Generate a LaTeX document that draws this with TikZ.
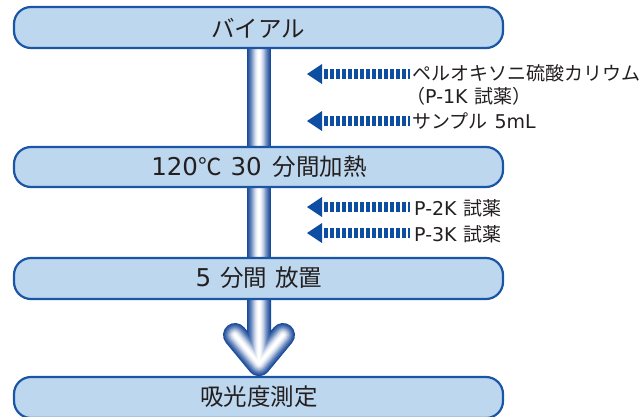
\documentclass[tikz,border=0pt]{standalone}
\usepackage{fontspec}
\setmainfont{Noto Sans CJK JP}
\newfontfamily\lat{DejaVu Sans}
\definecolor{boxfill}{HTML}{BDD7EE}
\definecolor{boxline}{HTML}{1B56A6}
\definecolor{tubeblue}{HTML}{1A4A9A}
\definecolor{arrblue}{HTML}{0D4EA3}
\definecolor{txt}{HTML}{231F20}
\newcommand{\tubedraw}[1]{%
  \foreach \w/\c in {24/0,22/8,20/16,18/26,16/36,14/48,12/60,10/72,8/82,6/90,4/96,2/100}{%
    \draw[line width=\w pt,color=white!\c!tubeblue,line cap=round,line join=round] #1;}}
\newcommand{\bl}[1]{{\lat\fontsize{24.5}{26}\selectfont #1}}
\begin{document}
\begin{tikzpicture}[x=1pt,y=-1pt,
  box/.style={draw=boxline, line width=2.2pt, fill=boxfill, rounded corners=17pt,
    minimum width=489pt, minimum height=41pt, inner sep=0pt},
  lbl/.style={text=txt, font=\fontsize{23.5}{26}\selectfont, inner sep=0pt},
  side/.style={text=txt, font=\fontsize{19}{22}\selectfont, anchor=west, inner sep=0pt},
  dashbar/.style={arrblue, line width=10pt, dash pattern=on 4pt off 2pt},
  dashhead/.style={fill=arrblue}]
\useasboundingbox (0,0) rectangle (643,416);
% shafts
\coordinate (tipj) at (259,364);
\coordinate (hl) at (235,335);
\coordinate (hr) at (283,335);
\coordinate (s1top) at (259,40);
\coordinate (s1bot) at (259,155);
\coordinate (s2top) at (259,180);
\coordinate (s2bot) at (259,266);
\coordinate (s3top) at (259,290);
\tubedraw{(s1top) -- (s1bot)}
\tubedraw{(s2top) -- (s2bot)}
\tubedraw{(s3top) -- (tipj) (hl) -- (tipj) -- (hr)}
% boxes
\node[box] (b1) at (258.5,27.5) {};
\node[box, minimum height=40pt] (b2) at (258.5,167) {};
\node[box] (b3) at (258.5,278.5) {};
\node[box] (b4) at (258.5,397.5) {};
\node[lbl] (t1) at (258,28) {バイアル};
\node[lbl] (t2) at (259,167) {\bl{120}℃\hspace{9pt}\bl{30}\hspace{11pt}分間加熱};
\node[lbl] (t3) at (259,278) {\bl{5}\hspace{9pt}分間\hspace{8pt}放置};
\node[lbl] (t4) at (259,397) {吸光度測定};
% side inputs
\node[side] (l1) at (412,73) {ペルオキソニ硫酸カリウム};
\node[side] (l1b) at (406,96) {（{\lat P-1K}\hspace{7pt}試薬）};
\node[side] (l2) at (412,121) {サンプル\hspace{7pt}{\lat 5mL}};
\node[side] (l3) at (414,208) {{\lat P-2K}\hspace{7pt}試薬};
\node[side] (l4) at (414,234) {{\lat P-3K}\hspace{7pt}試薬};
\foreach \n/\y in {h1/74,h2/121,h3/207,h4/233}{
  \coordinate (\n) at (307,\y);
  \fill[arrblue] (\n) -- ([shift={(15pt,10pt)}]\n) -- ([shift={(15pt,-10pt)}]\n) -- cycle;
  \draw[dashbar] ([xshift=17pt]\n) -- ([xshift=103pt]\n);
}
\end{tikzpicture}
\end{document}
